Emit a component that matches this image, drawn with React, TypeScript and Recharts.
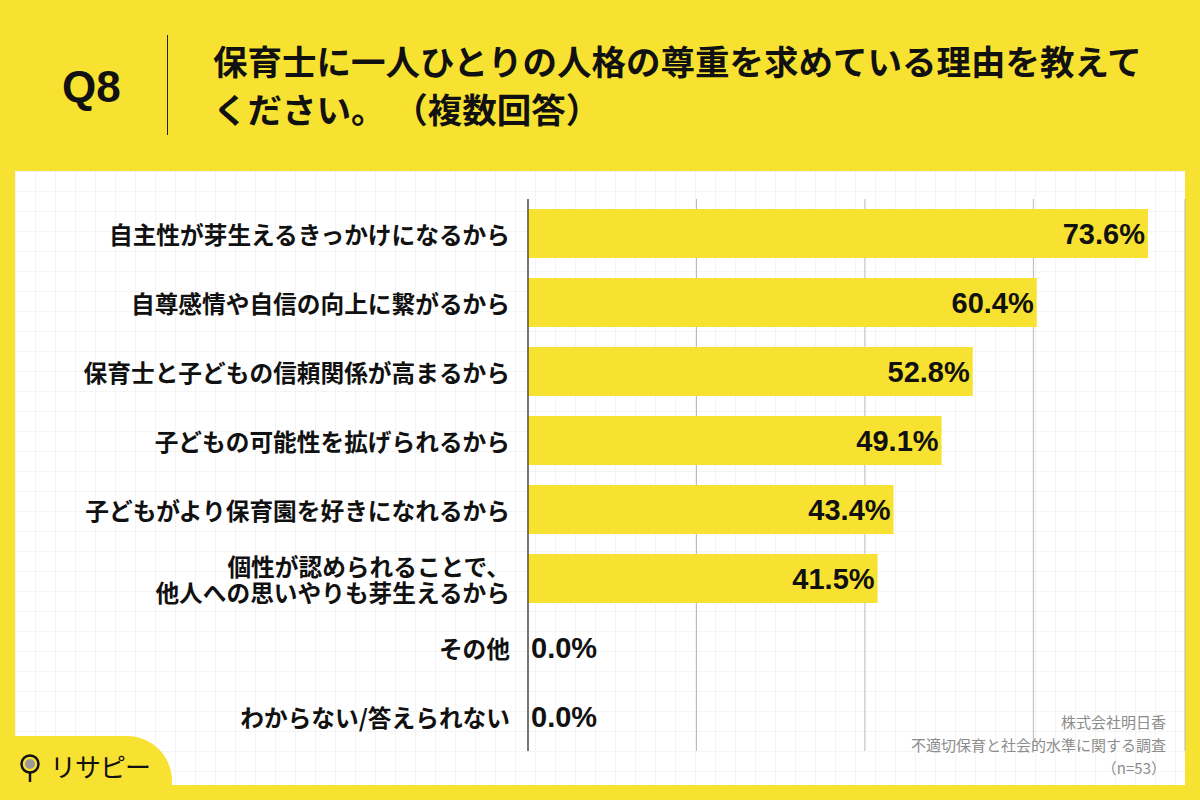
import React from 'react';
import { BarChart, Bar, XAxis, YAxis, CartesianGrid, LabelList } from 'recharts';

const categories = [
  '自主性が芽生えるきっかけになるから',
  '自尊感情や自信の向上に繋がるから',
  '保育士と子どもの信頼関係が高まるから',
  '子どもの可能性を拡げられるから',
  '子どもがより保育園を好きになれるから',
  '個性が認められることで、\n他人への思いやりも芽生えるから',
  'その他',
  'わからない/答えられない',
];
const values = [73.6, 60.4, 52.8, 49.1, 43.4, 41.5, 0.0, 0.0];
const gridTicks = [0, 20, 40, 60];
const sourceLines = ['株式会社明日香', '不適切保育と社会的水準に関する調査', '（n=53）'];

const YELLOW = '#F8E231';
const JP = '"Noto Sans CJK JP", "Noto Sans", sans-serif';
const NUM = '"Liberation Sans", Arial, sans-serif';

const data = categories.map((name, i) => ({ name, value: values[i] }));

const CategoryTick = (props: any) => {
  const { x, y, payload } = props;
  const lines = String(payload.value).split('\n');
  const lh = 26;
  const start = y - ((lines.length - 1) * lh) / 2;
  return (
    <text
      x={x}
      y={start}
      textAnchor="end"
      fontFamily={JP}
      fontWeight={700}
      fontSize={23.7}
      fill="#111"
    >
      {lines.map((l, i) => (
        <tspan key={i} x={x} y={start + i * lh} dominantBaseline="central">
          {l}
        </tspan>
      ))}
    </text>
  );
};

const ValueLabel = (props: any) => {
  const { x, y, width, height, value } = props;
  const inside = value > 5;
  return (
    <text
      x={inside ? x + width - 3 : x + 3}
      y={y + height / 2}
      textAnchor={inside ? 'end' : 'start'}
      dominantBaseline="central"
      fontFamily={NUM}
      fontWeight={700}
      fontSize={29}
      fill="#111"
    >
      {Number(value).toFixed(1) + '%'}
    </text>
  );
};

export default function App() {
  return (
    <div
      style={{
        position: 'absolute',
        left: 0,
        top: 0,
        width: 1200,
        height: 800,
        background: YELLOW,
        overflow: 'hidden',
      }}
    >
      {/* header */}
      <div
        style={{
          position: 'absolute',
          left: 62,
          top: 65,
          fontFamily: NUM,
          fontWeight: 700,
          fontSize: 44,
          lineHeight: '44px',
          color: '#111',
        }}
      >
        Q8
      </div>
      <div style={{ position: 'absolute', left: 167, top: 35, width: 1, height: 100, background: '#222' }} />
      <div
        style={{
          position: 'absolute',
          left: 213,
          top: 36,
          fontFamily: JP,
          fontWeight: 700,
          fontSize: 34.5,
          lineHeight: '48px',
          color: '#111',
          whiteSpace: 'nowrap',
        }}
      >
        保育士に一人ひとりの人格の尊重を求めている理由を教えて
        <br />
        ください。 （複数回答）
      </div>

      {/* white panel */}
      <div
        style={{
          position: 'absolute',
          left: 15,
          top: 171,
          width: 1170,
          height: 614,
          backgroundColor: '#fff',
          backgroundImage:
            'linear-gradient(#f4f4f4 1px, transparent 1px), linear-gradient(90deg, #f4f4f4 1px, transparent 1px)',
          backgroundSize: '20px 20px',
        }}
      />

      <div style={{ position: 'absolute', left: 0, top: 0 }}>
        <BarChart
          width={1200}
          height={800}
          data={data}
          layout="vertical"
          margin={{ top: 199, right: 15, bottom: 49, left: 0 }}
          barSize={49}
        >
          <CartesianGrid horizontal={false} stroke="#b8b8b8" />
          <XAxis type="number" domain={[0, 78]} ticks={gridTicks} hide />
          <YAxis
            type="category"
            dataKey="name"
            width={528}
            axisLine={{ stroke: '#111', strokeWidth: 1 }}
            tickLine={false}
            tickSize={0}
            tickMargin={18}
            tick={<CategoryTick />}
            interval={0}
          />
          <Bar dataKey="value" fill={YELLOW} minPointSize={0.01} isAnimationActive={false}>
            <LabelList dataKey="value" content={<ValueLabel />} />
          </Bar>
        </BarChart>
      </div>

      {/* source note */}
      <div
        style={{
          position: 'absolute',
          right: 34,
          top: 710,
          textAlign: 'right',
          fontFamily: JP,
          fontSize: 15,
          lineHeight: '23px',
          color: '#8c8c8c',
        }}
      >
        {sourceLines.map((s) => (
          <div key={s}>{s}</div>
        ))}
      </div>

      {/* logo block */}
      <div
        style={{
          position: 'absolute',
          left: 0,
          top: 736,
          width: 172,
          height: 64,
          background: YELLOW,
          borderTopRightRadius: 45,
        }}
      >
        <svg width={24} height={32} style={{ position: 'absolute', left: 19, top: 17 }}>
          <circle cx={11} cy={11} r={8.5} fill="none" stroke="#111" strokeWidth={2.5} />
          <circle cx={11} cy={11} r={5} fill="#9a9a9a" />
          <line x1={11} y1={19.5} x2={11} y2={29} stroke="#111" strokeWidth={2.5} />
        </svg>
        <div
          style={{
            position: 'absolute',
            left: 50,
            top: 14,
            fontFamily: JP,
            fontWeight: 400,
            fontSize: 26,
            lineHeight: '32px',
            color: '#111',
            letterSpacing: -1,
          }}
        >
          リサピー
        </div>
      </div>
    </div>
  );
}
